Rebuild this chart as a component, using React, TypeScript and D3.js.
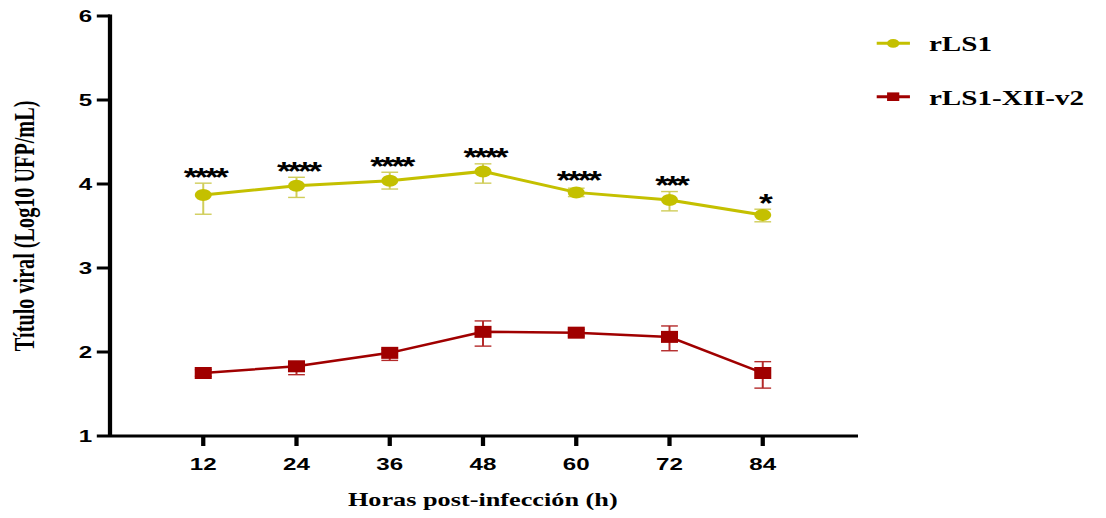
import React from "react";
import * as d3 from "d3";

// Hours post-infection
const hours = [12, 24, 36, 48, 60, 72, 84];

// rLS1 mean titres with error bar ends (log10 UFP/mL)
const rls1Mean = [3.87, 3.98, 4.04, 4.15, 3.9, 3.81, 3.63];
const rls1Hi = [4.01, 4.08, 4.14, 4.24, 3.95, 3.91, 3.7];
const rls1Lo = [3.64, 3.84, 3.94, 4.01, 3.85, 3.68, 3.55];

// rLS1-XII-v2 mean titres with error bar ends (log10 UFP/mL)
const xiiMean = [1.75, 1.83, 1.99, 2.24, 2.23, 2.18, 1.75];
const xiiHi = [1.79, 1.88, 2.03, 2.37, 2.27, 2.31, 1.885];
const xiiLo = [1.71, 1.73, 1.9, 2.07, 2.19, 2.015, 1.57];

// Significance marks per time point
const signif = ["****", "****", "****", "****", "****", "***", "*"];

const yTicks = [1, 2, 3, 4, 5, 6];
const xTicks = [12, 24, 36, 48, 60, 72, 84];

const seriesNames = ["rLS1", "rLS1-XII-v2"];

const W = 1106;
const H = 518;
// The whole figure is drawn in a narrower user space and stretched wide.
const SX = 1.42;
const VW = W / SX;

const YELLOW = "#c4c000";
const YELLOW_ERR = "#d0cd5a";
const RED = "#a00000";
const RED_ERR = "#b42a2a";

const sansBold = "'Liberation Sans', Arial, sans-serif";
const serifBold = "'Liberation Serif', 'Times New Roman', serif";

export default function App() {
  const x = d3.scaleLinear().domain([0, 96]).range([110 / SX, 856 / SX]);
  const y = d3.scaleLinear().domain([1, 6]).range([436, 16]);

  const line = d3
    .line<number>()
    .x((_, i) => x(hours[i]))
    .y((v) => y(v));

  const capHalf = 5.9;
  const markerR = 6;
  const sq = 12;

  const errBars = (mean: number[], hi: number[], lo: number[], color: string) =>
    mean.map((_, i) => {
      const cx = x(hours[i]);
      return (
        <g key={i} stroke={color} strokeWidth={1.4} fill="none">
          <line x1={cx} x2={cx} y1={y(hi[i])} y2={y(lo[i])} />
          <line x1={cx - capHalf} x2={cx + capHalf} y1={y(hi[i])} y2={y(hi[i])} />
          <line x1={cx - capHalf} x2={cx + capHalf} y1={y(lo[i])} y2={y(lo[i])} />
        </g>
      );
    });

  const x0 = x(0);
  const xEnd = x(96) + 2 / SX;

  return (
    <svg
      width={W}
      height={H}
      viewBox={`0 0 ${VW} ${H}`}
      preserveAspectRatio="none"
      style={{ position: "absolute", left: 0, top: 0, background: "#fff" }}
    >
      {/* y axis */}
      <line x1={x0} x2={x0} y1={y(6) - 1.5} y2={y(1)} stroke="#000" strokeWidth={3} />
      {yTicks.map((t) => (
        <g key={t}>
          <line x1={x0 - 9.3} x2={x0} y1={y(t)} y2={y(t)} stroke="#000" strokeWidth={3} />
          <text
            x={65}
            y={y(t)}
            dy="0.36em"
            textAnchor="end"
            fontFamily={sansBold}
            fontWeight="bold"
            fontSize={17}
          >
            {t}
          </text>
        </g>
      ))}

      {/* x axis */}
      <line x1={x0} x2={xEnd} y1={y(1)} y2={y(1)} stroke="#000" strokeWidth={3} />
      {xTicks.map((t) => (
        <g key={t}>
          <line x1={x(t)} x2={x(t)} y1={y(1)} y2={y(1) + 10} stroke="#000" strokeWidth={3} />
          <text
            x={x(t)}
            y={470.5}
            textAnchor="middle"
            fontFamily={sansBold}
            fontWeight="bold"
            fontSize={17}
          >
            {t}
          </text>
        </g>
      ))}

      {/* axis titles */}
      <text
        x={340}
        y={506}
        textAnchor="middle"
        fontFamily={serifBold}
        fontWeight="bold"
        fontSize={18.5}
      >
        Horas post-infección (h)
      </text>
      <text
        transform={`translate(${34 / SX}, 226) rotate(-90)`}
        textAnchor="middle"
        fontFamily={serifBold}
        fontWeight="bold"
        fontSize={20.2}
      >
        Título viral (Log10 UFP/mL)
      </text>

      {/* rLS1-XII-v2 */}
      {errBars(xiiMean, xiiHi, xiiLo, RED_ERR)}
      <path d={line(xiiMean) ?? ""} fill="none" stroke={RED} strokeWidth={2.5} />
      {xiiMean.map((v, i) => (
        <rect key={i} x={x(hours[i]) - sq / 2} y={y(v) - sq / 2} width={sq} height={sq} fill={RED} />
      ))}

      {/* rLS1 */}
      {errBars(rls1Mean, rls1Hi, rls1Lo, YELLOW_ERR)}
      <path d={line(rls1Mean) ?? ""} fill="none" stroke={YELLOW} strokeWidth={3} />
      {rls1Mean.map((v, i) => (
        <circle key={i} cx={x(hours[i])} cy={y(v)} r={markerR} fill={YELLOW} />
      ))}

      {/* significance marks */}
      {signif.map((s, i) => {
        const top = Math.min(y(rls1Hi[i]), y(rls1Mean[i]) - markerR);
        return (
          <text
            key={i}
            x={x(hours[i]) + 1}
            y={top + 2.5}
            textAnchor="middle"
            fontFamily={sansBold}
            fontWeight="bold"
            fontSize={25}
            letterSpacing={-2.4}
          >
            {s}
          </text>
        );
      })}

      {/* legend */}
      {seriesNames.map((name, i) => {
        const ly = i === 0 ? 43.3 : 96.7;
        const color = i === 0 ? YELLOW : RED;
        return (
          <g key={name}>
            <line x1={617.4} x2={640.8} y1={ly} y2={ly} stroke={color} strokeWidth={3} />
            {i === 0 ? (
              <circle cx={629} cy={ly} r={4.4} fill={color} />
            ) : (
              <rect x={629 - 4.3} y={ly - 4.3} width={8.6} height={8.6} fill={color} />
            )}
            <text
              x={654.2}
              y={ly + 8.2}
              fontFamily={serifBold}
              fontWeight="bold"
              fontSize={20.5}
            >
              {name}
            </text>
          </g>
        );
      })}
    </svg>
  );
}
